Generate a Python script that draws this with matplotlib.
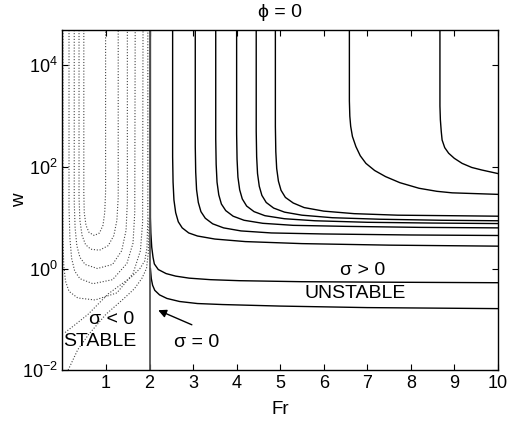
import numpy as np
import matplotlib
matplotlib.use("Agg")
import matplotlib.pyplot as plt

plt.rcParams['font.family'] = ['Liberation Sans', 'DejaVu Sans']
plt.rcParams['mathtext.fontset'] = 'custom'
plt.rcParams['mathtext.rm'] = 'Liberation Sans'
plt.rcParams['mathtext.it'] = 'Liberation Sans'

# contours of sigma > 0 (solid), Fr and log10(w)
pos_fr = [
    [2.02, 2.02, 2.03, 2.05, 2.08, 2.11, 2.2, 2.38, 2.6, 2.91, 3.4, 4.06, 5.5, 7.5, 10.0],
    [2.02, 2.04, 2.07, 2.12, 2.23, 2.4, 2.69, 3.1, 3.68, 5.0, 7.0, 10.0],
    [2.53, 2.53, 2.54, 2.56, 2.6, 2.66, 2.75, 2.9, 3.1, 3.5, 4.2, 5.5, 7.5, 10.0],
    [3.05, 3.05, 3.06, 3.08, 3.12, 3.18, 3.28, 3.45, 3.7, 4.1, 4.8, 6.0, 8.0, 10.0],
    [3.52, 3.52, 3.53, 3.55, 3.59, 3.65, 3.75, 3.92, 4.17, 4.6, 5.3, 6.5, 8.2, 10.0],
    [4.0, 4.0, 4.01, 4.03, 4.07, 4.13, 4.23, 4.4, 4.65, 5.1, 5.8, 7.0, 8.5, 10.0],
    [4.45, 4.45, 4.46, 4.48, 4.52, 4.58, 4.68, 4.85, 5.1, 5.5, 6.2, 7.3, 8.7, 10.0],
    [4.89, 4.89, 4.9, 4.92, 4.96, 5.02, 5.12, 5.3, 5.55, 6.0, 6.7, 7.7, 8.9, 10.0],
    [6.59, 6.59, 6.6, 6.62, 6.66, 6.74, 6.84, 6.97, 7.17, 7.42, 7.75, 8.19, 8.6, 8.95, 10.0],
    [8.67, 8.67, 8.68, 8.7, 8.72, 8.78, 8.87, 9.0, 9.18, 9.4, 9.63, 10.0],
]
pos_logw = [
    [4.75, 1.0, 0.7, 0.42, 0.22, 0.09, -0.02, -0.1, -0.15, -0.19, -0.22, -0.24, -0.26, -0.27, -0.28],
    [0.0, -0.2, -0.33, -0.43, -0.52, -0.59, -0.65, -0.69, -0.71, -0.74, -0.77, -0.79],
    [4.75, 2.2, 1.7, 1.35, 1.1, 0.92, 0.8, 0.7, 0.64, 0.58, 0.53, 0.49, 0.46, 0.44],
    [4.75, 2.4, 1.9, 1.55, 1.3, 1.12, 0.99, 0.88, 0.8, 0.74, 0.7, 0.68, 0.66, 0.65],
    [4.75, 2.55, 2.05, 1.7, 1.45, 1.27, 1.14, 1.03, 0.95, 0.89, 0.85, 0.83, 0.81, 0.80],
    [4.75, 2.65, 2.15, 1.8, 1.55, 1.37, 1.23, 1.12, 1.04, 0.98, 0.94, 0.91, 0.895, 0.885],
    [4.75, 2.7, 2.2, 1.87, 1.62, 1.44, 1.3, 1.19, 1.11, 1.05, 1.0, 0.97, 0.95, 0.94],
    [4.75, 2.8, 2.3, 1.97, 1.72, 1.54, 1.4, 1.29, 1.2, 1.13, 1.08, 1.05, 1.04, 1.03],
    [4.75, 3.3, 3.0, 2.8, 2.6, 2.4, 2.22, 2.07, 1.93, 1.81, 1.69, 1.58, 1.52, 1.49, 1.46],
    [4.75, 3.2, 2.93, 2.7, 2.53, 2.38, 2.27, 2.17, 2.07, 1.99, 1.94, 1.87],
]

# contours of sigma < 0 (dotted)
neg_fr = [
    [0.49, 0.49, 0.5, 0.54, 0.61, 0.73, 0.85, 0.93, 0.97, 0.99, 0.99],
    [0.38, 0.38, 0.4, 0.45, 0.53, 0.65, 0.85, 1.05, 1.18, 1.25, 1.28, 1.28],
    [0.27, 0.27, 0.29, 0.33, 0.4, 0.52, 0.8, 1.15, 1.36, 1.46, 1.49, 1.49],
    [0.15, 0.15, 0.17, 0.21, 0.28, 0.4, 0.7, 1.15, 1.48, 1.62, 1.66, 1.67],
    [0.01, 0.01, 0.03, 0.07, 0.15, 0.35, 0.75, 1.25, 1.62, 1.79, 1.84, 1.85],
    [0.06, 0.3, 0.59, 1.05, 1.4, 1.58, 1.78, 1.89, 1.94, 1.96, 1.96],
    [0.13, 0.35, 0.6, 1.0, 1.4, 1.65, 1.82, 1.93, 1.97, 1.99],
]
neg_logw = [
    [4.75, 1.5, 1.1, 0.85, 0.71, 0.65, 0.7, 0.85, 1.1, 1.5, 4.75],
    [4.75, 1.4, 0.95, 0.65, 0.47, 0.38, 0.36, 0.45, 0.65, 0.95, 1.4, 4.75],
    [4.75, 1.3, 0.8, 0.45, 0.22, 0.08, 0.0, 0.08, 0.35, 0.75, 1.3, 4.75],
    [4.75, 1.2, 0.6, 0.2, -0.05, -0.2, -0.3, -0.22, 0.1, 0.5, 1.1, 4.75],
    [4.75, 0.6, 0.05, -0.25, -0.45, -0.58, -0.62, -0.48, -0.1, 0.35, 0.9, 4.75],
    [-1.26, -1.1, -0.9, -0.5, -0.28, -0.17, 0.0, 0.15, 0.4, 1.0, 4.75],
    [-2.0, -1.6, -1.3, -0.9, -0.6, -0.4, -0.2, 0.0, 0.3, 1.0],
]

fr_ticks = [1, 2, 3, 4, 5, 6, 7, 8, 9, 10]
w_ticks = [1e-2, 1e0, 1e2, 1e4]

fig = plt.figure(figsize=(5.08, 4.21), dpi=100)
ax = fig.add_axes([0.123, 0.121, 0.857, 0.808])

for f, lw_ in zip(pos_fr, pos_logw):
    ax.plot(f, 10.0 ** np.array(lw_), color='black', lw=1.0)
for f, lw_ in zip(neg_fr, neg_logw):
    ax.plot(f, 10.0 ** np.array(lw_), color='#444444', lw=0.8, ls=(0, (1, 1.6)))

# neutral curve sigma = 0
ax.axvline(2.0, color='#555555', lw=1.3)

ax.set_yscale('log')
ax.set_xlim(0, 10)
ax.set_ylim(1e-2, 5e4)
ax.set_xticks(fr_ticks)
ax.set_yticks(w_ticks)
ax.minorticks_off()
ax.tick_params(direction='in', top=True, right=True, length=4, labelsize=13)
for s in ax.spines.values():
    s.set_linewidth(1.0)

ax.set_xlabel('Fr', fontsize=13.5)
ax.set_ylabel('w', fontsize=13.5)
ax.xaxis.set_label_coords(0.5, -0.092)
ax.yaxis.set_label_coords(-0.078, 0.5)
ax.set_title('ϕ = 0', fontsize=14, pad=9)

ax.text(6.9, 10 ** -0.04, 'σ > 0', fontsize=14, ha='center', va='center')
ax.text(6.73, 10 ** -0.5, 'UNSTABLE', fontsize=14, ha='center', va='center')
ax.text(1.13, 10 ** -1.0, 'σ < 0', fontsize=14, ha='center', va='center')
ax.text(0.85, 10 ** -1.43, 'STABLE', fontsize=14, ha='center', va='center')
ax.text(3.07, 10 ** -1.46, 'σ = 0', fontsize=14, ha='center', va='center')
ax.annotate('', xy=(2.14, 10 ** -0.8), xytext=(3.03, 10 ** -1.13),
            arrowprops=dict(arrowstyle='-|>', color='black', lw=1.0,
                            mutation_scale=12))

fig.savefig('out.png', dpi=100)
